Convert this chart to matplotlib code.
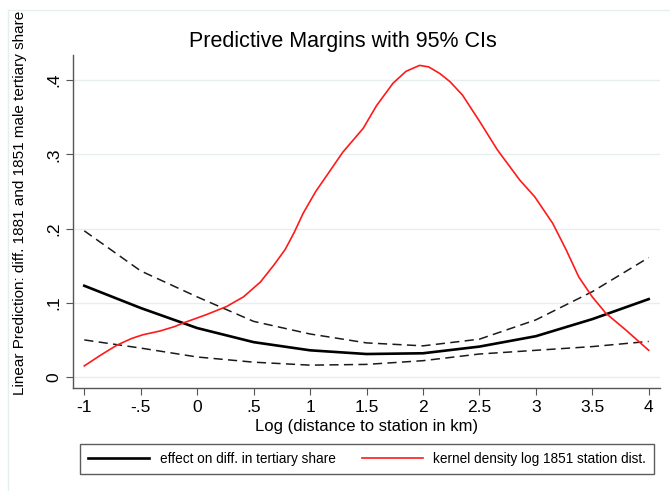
import matplotlib
matplotlib.use("Agg")
import matplotlib.pyplot as plt
from matplotlib.lines import Line2D

plt.rcParams['font.family'] = ['Liberation Sans', 'DejaVu Sans']

# predictive margins (x = log distance)
xm = [-1, -0.5, 0, 0.5, 1, 1.5, 2, 2.5, 3, 3.5, 4]
margin = [0.123, 0.093, 0.066, 0.047, 0.036, 0.031, 0.032, 0.041, 0.055, 0.078, 0.105]
ci_hi = [0.197, 0.143, 0.108, 0.075, 0.058, 0.046, 0.042, 0.051, 0.077, 0.115, 0.161]
ci_lo = [0.050, 0.039, 0.027, 0.020, 0.016, 0.017, 0.022, 0.031, 0.036, 0.041, 0.048]

# kernel density of log 1851 station distance
xk = [-1, -0.85, -0.71, -0.58, -0.48, -0.33, -0.2, -0.12, 0.08, 0.26, 0.41, 0.56,
      0.68, 0.78, 0.86, 0.94, 1.05, 1.15, 1.29, 1.47, 1.59, 1.735, 1.85, 1.97, 2.05,
      2.15, 2.24, 2.35, 2.5, 2.66, 2.86, 2.99, 3.15, 3.27, 3.38, 3.5, 3.62, 3.8, 4.0]
dens = [0.015, 0.030, 0.043, 0.052, 0.057, 0.062, 0.068, 0.073, 0.084, 0.095, 0.108, 0.128,
        0.151, 0.172, 0.195, 0.221, 0.250, 0.272, 0.303, 0.335, 0.366, 0.396, 0.412, 0.420, 0.418,
        0.409, 0.398, 0.380, 0.345, 0.306, 0.265, 0.243, 0.207, 0.171, 0.135, 0.108, 0.086, 0.063, 0.036]

xticks = [-1, -0.5, 0, 0.5, 1, 1.5, 2, 2.5, 3, 3.5, 4]
xticklabels = ['-1', '-.5', '0', '.5', '1', '1.5', '2', '2.5', '3', '3.5', '4']
yticks = [0, 0.1, 0.2, 0.3, 0.4]
yticklabels = ['0', '.1', '.2', '.3', '.4']

W, H = 670, 491
fig = plt.figure(figsize=(W / 100, H / 100), dpi=100)
ax = fig.add_axes([73 / W, 1 - 388 / H, (660 - 73) / W, (388 - 55) / H])

# faint outer frame of the graph region
fig.add_artist(Line2D([8 / W, 8 / W], [0, 1 - 10 / H], color='#e6eff0', lw=1))
fig.add_artist(Line2D([8 / W, 1], [1 - 10 / H, 1 - 10 / H], color='#e6eff0', lw=1))

ax.plot(xm, ci_hi, color='#1a1a1a', lw=1.1, dashes=(6, 3.5))
ax.plot(xm, ci_lo, color='#1a1a1a', lw=1.1, dashes=(6, 3.5))
ax.plot(xm, margin, color='black', lw=1.9)
ax.plot(xk, dens, color='#ff1a1a', lw=1.2)

ax.set_xlim(-1.1, 4.1)
ax.set_ylim(-0.0148, 0.434)
ax.set_xticks(xticks)
ax.set_xticklabels(xticklabels)
ax.set_yticks(yticks)
ax.set_yticklabels(yticklabels, rotation=90, va='center')
ax.tick_params(axis='both', labelsize=12.5, length=5, color='#555555', direction='out')
ax.grid(axis='y', color='#e6eff0', lw=1)
ax.set_axisbelow(True)
for s in ['top', 'right']:
    ax.spines[s].set_visible(False)
for s in ['left', 'bottom']:
    ax.spines[s].set_color('#555555')
    ax.spines[s].set_linewidth(1)

ax.set_xlabel('Log (distance to station in km)', fontsize=12, labelpad=3)
ax.set_ylabel('Linear Prediction: diff. 1881 and 1851 male tertiary share', fontsize=11)
ax.yaxis.set_label_coords(-0.078, 0.557)

fig.text(343 / W, 1 - 42 / H, 'Predictive Margins with 95% CIs', fontsize=15.5,
         ha='center', va='center')

handles = [Line2D([], [], color='black', lw=1.9), Line2D([], [], color='#ff1a1a', lw=1.2)]
leg = fig.legend(handles, ['effect on diff. in tertiary share', 'kernel density log 1851 station dist.'],
                 loc='center', bbox_to_anchor=(80 / W, 1 - 474 / H, (654 - 80) / W, 30 / H),
                 mode='expand', ncol=2, fontsize=9.8, handlelength=4.5, handletextpad=0.75,
                 frameon=True, fancybox=False, edgecolor='#333333', borderaxespad=0,
                 borderpad=0.6, columnspacing=2)
leg.get_frame().set_linewidth(1)

fig.savefig('out.png', dpi=100, facecolor='white')
